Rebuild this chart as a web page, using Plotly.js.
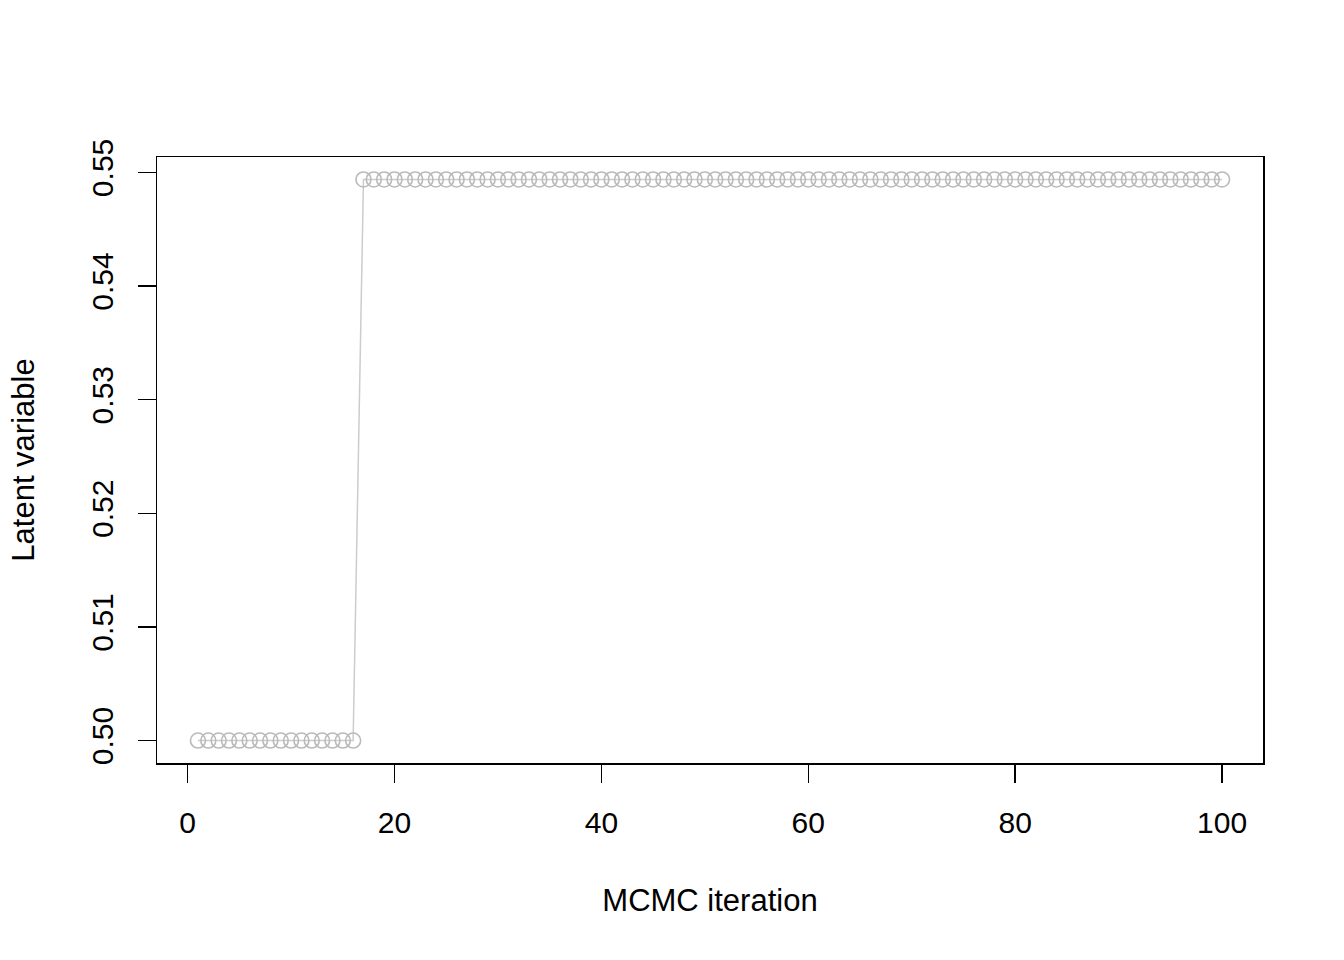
<!DOCTYPE html>
<html>
<head>
<meta charset="utf-8">
<script src="https://cdn.plot.ly/plotly-3.0.1.min.js"></script>
<style>html,body{margin:0;padding:0;background:#fff;}#chart{width:1344px;height:960px;}</style>
</head>
<body>
<div id="chart"></div>
<script>
// MCMC iterations 1..100
const iteration = [1,2,3,4,5,6,7,8,9,10,11,12,13,14,15,16,17,18,19,20,21,22,23,24,25,26,27,28,29,30,31,32,33,34,35,36,37,38,39,40,41,42,43,44,45,46,47,48,49,50,51,52,53,54,55,56,57,58,59,60,61,62,63,64,65,66,67,68,69,70,71,72,73,74,75,76,77,78,79,80,81,82,83,84,85,86,87,88,89,90,91,92,93,94,95,96,97,98,99,100];
// Latent variable trace: 16 draws at 0.500, then 84 draws at ~0.5494
const latentLow = [0.5,0.5,0.5,0.5,0.5,0.5,0.5,0.5,0.5,0.5,0.5,0.5,0.5,0.5,0.5,0.5];
const latentHigh = [0.54938,0.54938,0.54938,0.54938,0.54938,0.54938,0.54938,0.54938,0.54938,0.54938,0.54938,0.54938,0.54938,0.54938,0.54938,0.54938,0.54938,0.54938,0.54938,0.54938,0.54938,0.54938,0.54938,0.54938,0.54938,0.54938,0.54938,0.54938,0.54938,0.54938,0.54938,0.54938,0.54938,0.54938,0.54938,0.54938,0.54938,0.54938,0.54938,0.54938,0.54938,0.54938,0.54938,0.54938,0.54938,0.54938,0.54938,0.54938,0.54938,0.54938,0.54938,0.54938,0.54938,0.54938,0.54938,0.54938,0.54938,0.54938,0.54938,0.54938,0.54938,0.54938,0.54938,0.54938,0.54938,0.54938,0.54938,0.54938,0.54938,0.54938,0.54938,0.54938,0.54938,0.54938,0.54938,0.54938,0.54938,0.54938,0.54938,0.54938,0.54938,0.54938,0.54938,0.54938];
const latent = latentLow.concat(latentHigh);
const xTicks = [0,20,40,60,80,100];
const yTicks = [0.50,0.51,0.52,0.53,0.54,0.55];
const yTickText = ["0.50","0.51","0.52","0.53","0.54","0.55"];

const fontFam = 'Liberation Sans, Arial, sans-serif';
const trace = {
  x: iteration, y: latent, type: 'scatter', mode: 'lines+markers',
  line: {color: '#cccccc', width: 1.5},
  marker: {symbol: 'circle-open', size: 15, color: '#bababa', line: {width: 1.6, color: '#bababa'}},
  hoverinfo: 'x+y', showlegend: false
};
const layout = {
  width: 1344, height: 960,
  paper_bgcolor: '#fff', plot_bgcolor: '#fff',
  margin: {l: 157, r: 81, t: 157, b: 197},
  font: {family: fontFam, color: '#000', size: 30},
  xaxis: {
    range: [-2.96, 103.96], tickvals: xTicks, ticktext: xTicks.map(String),
    showgrid: false, zeroline: false, showline: true, mirror: true,
    linecolor: '#000', linewidth: 1.5,
    ticks: 'outside', ticklen: 18, tickwidth: 1.5, tickcolor: '#000',
    ticklabelstandoff: 14,
    tickfont: {family: fontFam, size: 30, color: '#000'},
    title: {text: 'MCMC iteration', font: {family: fontFam, size: 31, color: '#000'}, standoff: 52}
  },
  yaxis: {
    range: [0.498025, 0.551359], tickvals: yTicks, ticktext: yTickText,
    tickangle: -90,
    showgrid: false, zeroline: false, showline: true, mirror: true,
    linecolor: '#000', linewidth: 1.5,
    ticks: 'outside', ticklen: 18, tickwidth: 1.5, tickcolor: '#000',
    ticklabelstandoff: 13,
    tickfont: {family: fontFam, size: 30, color: '#000'},
    title: {text: 'Latent variable', font: {family: fontFam, size: 31, color: '#000'}, standoff: 41}
  }
};
Plotly.newPlot('chart', [trace], layout, {displayModeBar: false, staticPlot: true});
</script>
</body>
</html>
